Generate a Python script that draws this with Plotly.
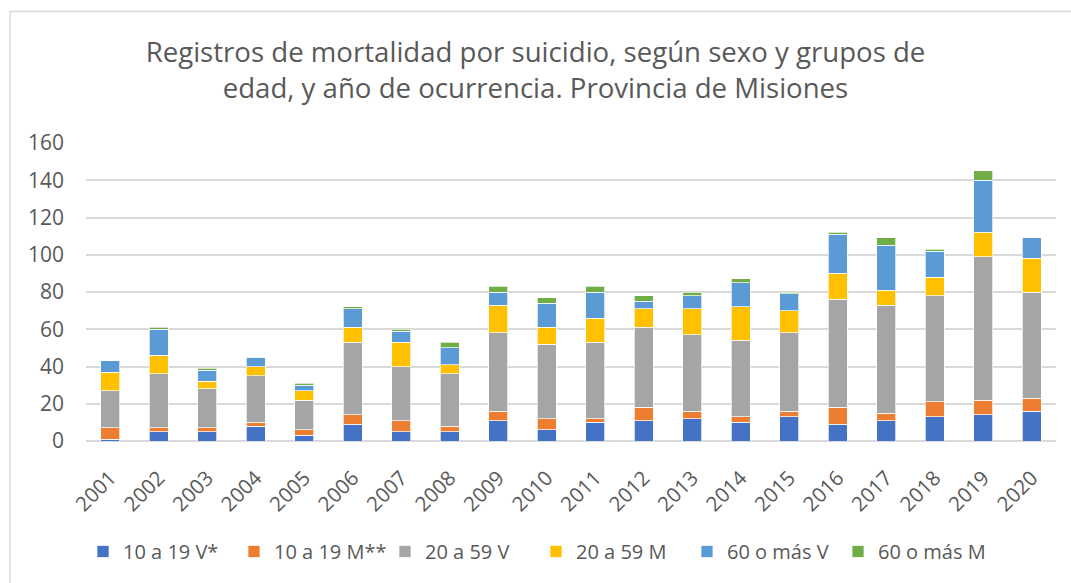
import plotly.graph_objects as go

years = [str(y) for y in range(2001, 2021)]
v10_19 = [1, 5, 5, 8, 3, 9, 5, 5, 11, 6, 10, 11, 12, 10, 13, 9, 11, 13, 14, 16]
m10_19 = [6, 2, 2, 2, 3, 5, 6, 3, 5, 6, 2, 7, 4, 3, 3, 9, 4, 8, 8, 7]
v20_59 = [20, 29, 21, 25, 16, 39, 29, 28, 42, 40, 41, 43, 41, 41, 42, 58, 58, 57, 77, 57]
m20_59 = [10, 10, 4, 5, 5, 8, 13, 5, 15, 9, 13, 10, 14, 18, 12, 14, 8, 10, 13, 18]
v60 = [6, 14, 6, 5, 3, 10, 6, 9, 7, 13, 14, 4, 7, 13, 9, 21, 24, 14, 28, 11]
m60 = [0, 1, 1, 0, 1, 1, 1, 3, 3, 3, 3, 3, 2, 2, 1, 1, 4, 1, 5, 0]

series_names = ["10 a 19 V*", "10 a 19 M**", "20 a 59 V", "20 a 59 M", "60 o más V", "60 o más M"]
series_values = [v10_19, m10_19, v20_59, m20_59, v60, m60]
colors = ["#4472C4", "#ED7D31", "#A5A5A5", "#FFC000", "#5B9BD5", "#70AD47"]

FONT = "Open Sans"
TXT = "#595959"

fig = go.Figure()
for name, vals, col in zip(series_names, series_values, colors):
    fig.add_trace(go.Bar(
        x=years, y=vals, name=name,
        marker=dict(color=col, line=dict(color="rgba(255,255,255,0.7)", width=1)),
    ))

W, H = 1071, 583
ml, mr, mt, mb = 86, 15, 142.7, 141.7
pw = W - ml - mr
ph = H - mt - mb

fig.update_layout(
    width=W, height=H,
    barmode="stack", bargap=0.6,
    margin=dict(l=ml, r=mr, t=mt, b=mb, autoexpand=False),
    paper_bgcolor="white", plot_bgcolor="white",
    font=dict(family=FONT, color=TXT, size=20),
    title=dict(
        text="Registros de mortalidad por suicidio, según sexo y grupos de<br>edad, y año de ocurrencia. Provincia de Misiones",
        x=0.5, xanchor="center", xref="container",
        y=1 - 62 / H, yanchor="top", yref="container",
        font=dict(family=FONT, size=27.6, color=TXT),
    ),
    showlegend=True,
    legend=dict(
        orientation="h", x=(102 - 19 - ml) / pw, xanchor="left",
        y=(mt + ph - 552) / ph, yanchor="middle",
        font=dict(family=FONT, size=20, color=TXT),
        itemwidth=30, entrywidth=106, entrywidthmode="pixels",
        traceorder="normal",
    ),
    xaxis=dict(
        type="category", tickangle=-45, showgrid=False,
        showline=False, ticks="", tickfont=dict(family=FONT, size=20.5, color=TXT),
        ticklabelstandoff=20,
    ),
    yaxis=dict(
        range=[0, 160], dtick=20, showgrid=True, gridcolor="#D9D9D9", gridwidth=1.5,
        zeroline=True, zerolinecolor="#D9D9D9", zerolinewidth=1.5,
        ticks="", tickfont=dict(family=FONT, size=21, color=TXT),
        ticklabelstandoff=21,
    ),
    shapes=[dict(
        type="rect", xref="paper", yref="paper",
        x0=(10 - ml) / pw, x1=1.2, y0=-1.0, y1=(mt + ph - 11) / ph,
        line=dict(color="#D9D9D9", width=1.5), fillcolor="rgba(0,0,0,0)", layer="above",
    )],
)

fig.write_html("out.html", config={"displayModeBar": False},
               post_script="document.body.style.margin='0';")
